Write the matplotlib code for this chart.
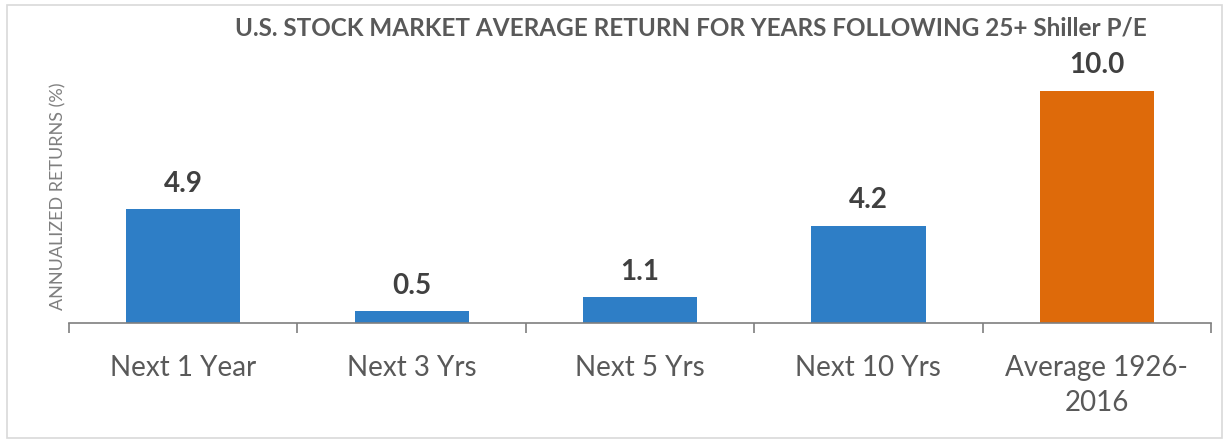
import matplotlib
matplotlib.use("Agg")
import matplotlib.pyplot as plt
from matplotlib.patches import Rectangle

categories = ["Next 1 Year", "Next 3 Yrs", "Next 5 Yrs", "Next 10 Yrs", "Average 1926-\n2016"]
values = [4.9, 0.5, 1.1, 4.2, 10.0]
colors = ["#2E7EC6", "#2E7EC6", "#2E7EC6", "#2E7EC6", "#DE6A0A"]
title = "U.S. STOCK MARKET AVERAGE RETURN FOR YEARS FOLLOWING 25+ Shiller P/E"
ylabel = "ANNUALIZED RETURNS (%)"

plt.rcParams['font.family'] = ['Lato', 'DejaVu Sans']

fig = plt.figure(figsize=(12.28, 4.45), dpi=100)
W, H = 1228, 445
ax = fig.add_axes([69 / W, 1 - 323 / H, (1211 - 69) / W, (323 - 70) / H])

x = list(range(len(categories)))
ax.bar(x, values, width=0.5, color=colors, zorder=2)
ax.set_xlim(-0.5, len(categories) - 0.5)
ax.set_ylim(0, 10.9)

for xi, v in zip(x, values):
    ax.annotate(f"{v:.1f}", (xi, v), xytext=(0, 9), textcoords="offset points",
                ha="center", va="bottom", fontsize=20, fontweight="bold", color="#404040")

for s in ["top", "right", "left"]:
    ax.spines[s].set_visible(False)
ax.spines["bottom"].set_color("#7F7F7F")
ax.spines["bottom"].set_linewidth(1.2)
ax.set_yticks([])
ax.set_xticks([i - 0.5 for i in range(len(categories) + 1)], minor=True)
ax.set_xticks(x)
ax.set_xticklabels(categories, fontsize=20, color="#595959", linespacing=1.45)
ax.tick_params(axis="x", which="major", length=0, pad=23)
ax.tick_params(axis="x", which="minor", length=7, color="#7F7F7F", width=1.2)

ax.set_ylabel(ylabel, fontsize=13, color="#7F7F7F", labelpad=2)

fig.text(691 / W, 1 - 28 / H, title, ha="center", va="center", fontsize=17.5,
         fontweight="bold", color="#595959")

fig.patches.append(Rectangle((7 / W, 1 - 438 / H), (1222 - 7) / W, (438 - 5) / H,
                             transform=fig.transFigure, fill=False,
                             edgecolor="#D9D9D9", linewidth=1.2))

fig.savefig("out.png", dpi=100)
